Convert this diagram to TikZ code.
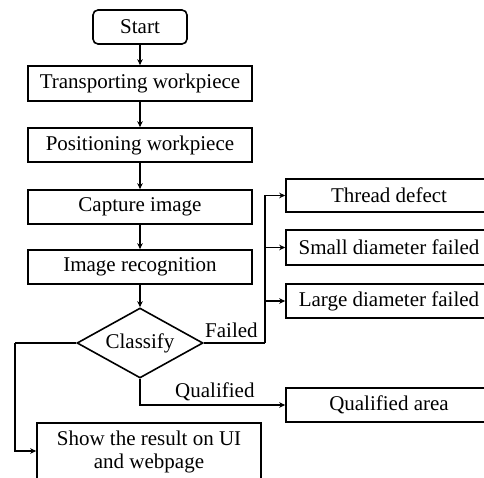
\documentclass[tikz,border=0pt]{standalone}
\usepackage{fontspec}
\setmainfont{Liberation Serif}
\usetikzlibrary{arrows.meta,shapes.geometric}
\begin{document}
\begin{tikzpicture}[x=1pt,y=-1pt,
  every node/.style={font=\fontsize{21}{23}\selectfont},
  box/.style={draw,line width=1.6pt,rectangle,inner sep=0pt},
  rbox/.style={box,minimum width=206pt,anchor=center},
  line/.style={line width=1.6pt},
  arr/.style={line, -{Stealth[length=6pt,width=5.5pt]}}]
\clip (0,0) rectangle (484,478);
\fill[white] (0,0) rectangle (484,478);
% main column
\node[box,rounded corners=5pt,minimum width=94pt,minimum height=34pt] (start) at (140,27) {Start};
\node[box,minimum width=224pt,minimum height=35pt] (trans) at (140,83.5) {Transporting workpiece};
\node[box,minimum width=224pt,minimum height=34pt] (pos) at (140,145) {Positioning workpiece};
\node[box,minimum width=224pt,minimum height=34pt] (cap) at (140,207) {Capture image};
\node[box,minimum width=224pt,minimum height=34pt] (rec) at (140,267) {Image recognition};
\node[draw,line width=1.6pt,diamond,aspect=1.8,minimum width=126pt,minimum height=70pt,inner sep=0pt] (cls) at (140,343) {Classify};
% result boxes on the right
\node[rbox,minimum height=33pt] (thread) at (389,195.5) {Thread defect};
\node[rbox,minimum height=35pt] (small) at (389,247.5) {Small diameter failed};
\node[rbox,minimum height=34pt] (large) at (389,301) {Large diameter failed};
\node[rbox,minimum height=34pt] (qual) at (389,405) {Qualified area};
\node[box,minimum width=224pt,minimum height=59pt,align=center,anchor=north] (show) at (149,422) {Show the result on UI\\and webpage};
% connectors
\draw[arr] (start) -- (trans);
\draw[arr] (trans) -- (pos);
\draw[arr] (pos) -- (cap);
\draw[arr] (cap) -- (rec);
\draw[arr] (rec) -- (cls.north);
\coordinate (fork) at (265,343);
\draw[line] (cls.east) -- (fork);
\draw[arr] (fork) |- (thread.west);
\draw[arr] (fork) |- (small.west);
\draw[arr] (fork) |- (large.west);
\draw[arr] (cls.south) |- (qual.west);
\coordinate (lft) at (15,343);
\draw[line] (cls.west) -- (lft);
\draw[arr] (lft) |- (show.west |- 0,451);
% branch labels
\node[anchor=base west,inner sep=0pt] (failed) at (205,337) {Failed};
\node[anchor=base west,inner sep=0pt] (qlab) at (175,397) {Qualified};
\end{tikzpicture}
\end{document}
